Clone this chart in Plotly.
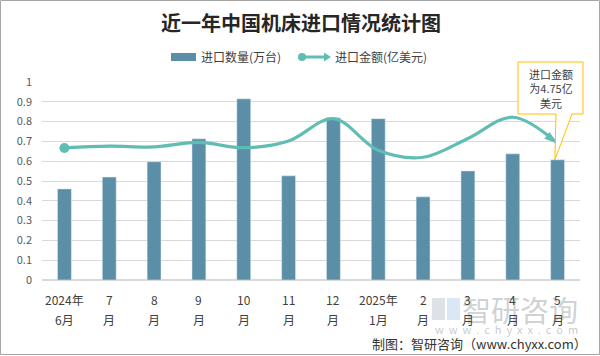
import plotly.graph_objects as go

month_top = ["2024年", "7", "8", "9", "10", "11", "12", "2025年", "2", "3", "4", "5"]
month_bot = ["6月", "月", "月", "月", "月", "月", "月", "1月", "月", "月", "月", "月"]
qty = [0.46, 0.52, 0.597, 0.713, 0.915, 0.526, 0.82, 0.815, 0.42, 0.551, 0.637, 0.607]
amount = [0.667, 0.676, 0.672, 0.695, 0.668, 0.702, 0.815, 0.655, 0.62, 0.715, 0.822, 0.69]
ytick_vals = [0, 0.1, 0.2, 0.3, 0.4, 0.5, 0.6, 0.7, 0.8, 0.9, 1]
ytick_text = ["0", "0.1", "0.2", "0.3", "0.4", "0.5", "0.6", "0.7", "0.8", "0.9", "1"]
series_names = ["进口数量(万台)", "进口金额(亿美元)"]
callout_text = "进口金额<br>为4.75亿<br>美元"

W, H = 600, 356
ML, MR, MT, MB = 42, 20, 82, 76
PW, PH = W - ML - MR, H - MT - MB
FONT = "Noto Sans CJK SC, Noto Sans, sans-serif"
BAR_C = "#5b8fa7"
LINE_C = "#60bdb3"
TXT_C = "#404040"

n = len(month_top)
xs = list(range(n))

def fx(px):
    return (px - ML) / PW

def fy(py):
    return (H - MB - py) / PH

fig = go.Figure()
fig.add_trace(go.Bar(x=xs, y=qty, name=series_names[0], marker_color=BAR_C, width=0.31,
                     showlegend=False, hoverinfo="skip"))
fig.add_trace(go.Scatter(x=xs, y=amount, name=series_names[1], mode="lines",
                         line=dict(color=LINE_C, width=3.2, shape="spline", smoothing=1.0),
                         showlegend=False, hoverinfo="skip"))
fig.add_trace(go.Scatter(x=xs[:1], y=amount[:1], mode="markers", showlegend=False,
                         hoverinfo="skip",
                         marker=dict(color=LINE_C, size=10, symbol="circle", line=dict(width=0))))
fig.add_trace(go.Scatter(x=xs[-1:], y=amount[-1:], mode="markers", showlegend=False,
                         hoverinfo="skip",
                         marker=dict(color=LINE_C, size=14, symbol="arrow", angle=127,
                                     line=dict(width=0))))

# callout pointing at last bar
tipx = (n - 1 + 0.5) / n - 0.005
tip_y = qty[-1]
bx0, bx1 = fx(518), fx(583)
by0, by1 = fy(114), fy(62)
p1, p2 = fx(556), fx(572)
path = (f"M {bx0} {by1} L {bx1} {by1} L {bx1} {by0} L {p2} {by0} L {tipx} {tip_y} "
        f"L {p1} {by0} L {bx0} {by0} Z")
shapes = [
    dict(type="path", xref="paper", yref="paper", path=path,
         line=dict(color="#ffc000", width=1), fillcolor="white", layer="above"),
    dict(type="rect", xref="paper", yref="paper",
         x0=fx(0.5), x1=fx(W - 0.5), y0=fy(H - 1.5), y1=fy(0.5),
         line=dict(color="#a6a6a6", width=1), fillcolor="rgba(0,0,0,0)", layer="below"),
    # legend: bar swatch
    dict(type="rect", xref="paper", yref="paper", x0=fx(171), x1=fx(196), y0=fy(61), y1=fy(53),
         line=dict(width=0), fillcolor=BAR_C),
    # legend: line swatch
    dict(type="line", xref="paper", yref="paper", x0=fx(302), x1=fx(326), y0=fy(57), y1=fy(57),
         line=dict(color=LINE_C, width=3)),
    dict(type="circle", xref="paper", yref="paper", x0=fx(298), x1=fx(306), y0=fy(61), y1=fy(53),
         line=dict(width=0), fillcolor=LINE_C),
    dict(type="path", xref="paper", yref="paper",
         path=f"M {fx(324)} {fy(52.5)} L {fx(331)} {fy(57)} L {fx(324)} {fy(61.5)} Z",
         line=dict(width=0), fillcolor=LINE_C),
    # watermark logo (approximate)
    dict(type="rect", xref="paper", yref="paper", x0=fx(432), x1=fx(445), y0=fy(320), y1=fy(298),
         line=dict(width=0), fillcolor="rgba(160,170,190,0.35)", layer="below"),
    dict(type="rect", xref="paper", yref="paper", x0=fx(447), x1=fx(460), y0=fy(320), y1=fy(298),
         line=dict(width=0), fillcolor="rgba(150,190,225,0.35)", layer="below"),
]

def ann(text, px, py, size, color=TXT_C, xanchor="center", **kw):
    return dict(text=text, xref="paper", yref="paper", x=fx(px), y=fy(py),
                xanchor=xanchor, yanchor="middle", showarrow=False,
                font=dict(family=FONT, size=size, color=color, **kw))

annotations = [
    dict(text=callout_text, xref="paper", yref="paper", x=(bx0 + bx1) / 2, y=(by0 + by1) / 2,
         xanchor="center", yanchor="middle", showarrow=False,
         font=dict(family=FONT, size=11, color=TXT_C), align="center"),
    ann("近一年中国机床进口情况统计图", 301, 23, 20, "#262626", weight="bold"),
    ann(series_names[0], 199, 57, 12, xanchor="left"),
    ann(series_names[1], 333, 57, 12, xanchor="left"),
    ann("智研咨询", 520, 309, 29, "rgba(130,135,140,0.4)"),
    ann("w  w  w  .  c  h  y  x  x  .  c  o  m", 506, 329, 11, "rgba(130,135,140,0.45)"),
    ann("制图：智研咨询（www.chyxx.com）", 589, 343, 13, "#333333", xanchor="right"),
]
for i in xs:
    annotations.append(dict(text=month_top[i], xref="x", yref="paper", x=i, y=fy(299),
                            xanchor="center", yanchor="middle", showarrow=False,
                            font=dict(family=FONT, size=12, color=TXT_C)))
    annotations.append(dict(text=month_bot[i], xref="x", yref="paper", x=i, y=fy(319),
                            xanchor="center", yanchor="middle", showarrow=False,
                            font=dict(family=FONT, size=12, color=TXT_C)))

fig.update_layout(
    width=W, height=H, margin=dict(l=ML, r=MR, t=MT, b=MB, autoexpand=False),
    paper_bgcolor="white", plot_bgcolor="white",
    font=dict(family=FONT, size=12, color=TXT_C),
    showlegend=False, hovermode=False,
    xaxis=dict(range=[-0.5, n - 0.5], showticklabels=False, automargin=False,
               showgrid=False, zeroline=False, showline=False, ticks=""),
    yaxis=dict(range=[0, 1], tickmode="array", tickvals=ytick_vals, ticktext=ytick_text,
               automargin=False, showgrid=True, gridcolor="#d9d9d9", gridwidth=1,
               zeroline=True, zerolinecolor="#d9d9d9", zerolinewidth=1.5, showline=False,
               ticks="", ticklabelstandoff=9,
               tickfont=dict(family=FONT, size=11, color="#595959")),
    shapes=shapes, annotations=annotations,
)

fig.write_html("out.html", config={"displayModeBar": False},
               post_script="document.body.style.margin='0';document.body.style.overflow='hidden';")
